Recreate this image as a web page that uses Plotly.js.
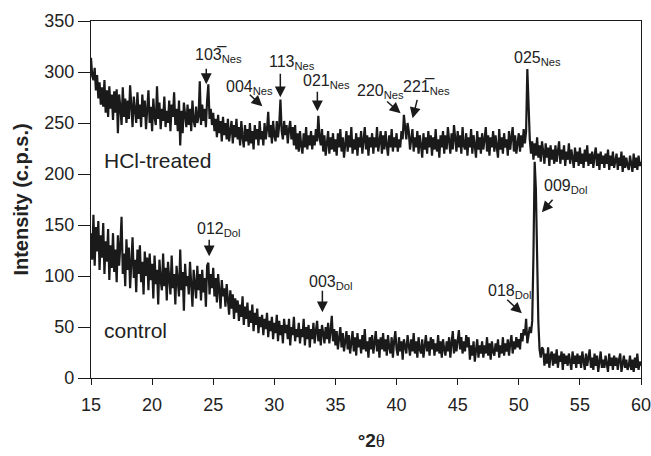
<!DOCTYPE html>
<html>
<head>
<meta charset="utf-8">
<script src="https://cdn.plot.ly/plotly-3.0.1.min.js"></script>
<style>html,body{margin:0;padding:0;background:#fff;}#chart{width:651px;height:456px;}</style>
</head>
<body>
<div id="chart"></div>
<script>
// 2-theta grid: starts at 15 degrees, one reading every 0.1 degree up to 60
const twoThetaStart = 15;
const twoThetaStep = 0.1;

// HCl-treated pattern, intensity (c.p.s.), one row per degree (15.0 ... 59.9), then 60.0
const hclTreated = [
  314,296,292,304,282,297,274,290,268,285,
  266,292,260,282,256,286,264,278,253,281,
  260,283,240,278,266,248,285,256,274,250,
  272,254,287,258,246,276,260,250,280,254,
  268,246,278,256,272,244,264,282,250,266,
  242,274,256,248,286,254,270,244,264,252,
  276,246,262,250,272,242,268,256,280,248,
  264,242,272,228,262,240,270,254,246,268,
  248,264,242,272,252,246,266,250,256,291,
  248,268,252,264,246,272,288,254,264,248,
  260,242,254,236,258,240,252,232,256,238,
  250,234,254,232,246,252,230,248,236,254,
  234,246,228,252,236,226,248,232,244,228,
  250,230,242,224,248,234,244,228,252,234,
  242,228,250,234,244,261,236,248,230,252,
  238,232,252,236,248,273,242,234,252,238,
  248,230,244,252,234,246,228,248,224,240,
  222,242,228,220,240,226,246,224,238,228,
  242,224,238,228,244,232,257,236,228,244,
  222,238,218,234,242,220,236,224,240,222,
  234,218,240,226,244,222,236,216,232,242,
  222,238,226,246,220,234,224,240,218,236,
  226,242,220,234,246,224,238,218,236,226,
  240,220,236,226,246,222,234,242,220,238,
  224,242,228,218,238,226,244,222,236,226,
  240,222,234,226,242,234,258,242,234,250,
  242,224,238,244,222,236,226,242,220,238,
  228,216,240,224,236,220,242,226,238,218,
  236,224,244,222,234,216,238,226,242,220,
  238,224,246,228,220,240,224,248,230,222,
  242,226,238,220,246,228,224,240,218,236,
  226,244,220,238,228,216,242,224,236,220,
  240,224,234,246,222,238,218,236,226,242,
  222,238,226,216,244,224,236,220,240,226,
  234,218,242,224,236,246,222,238,220,232,
  240,222,238,226,244,230,242,303,256,234,
  220,232,214,230,218,236,216,228,212,232,
  222,210,230,216,226,208,228,214,224,210,
  228,212,222,232,210,224,214,228,208,222,
  214,230,210,224,216,206,226,212,222,208,
  226,210,220,206,224,212,228,208,220,210,
  222,206,218,226,208,220,204,222,210,218,
  206,220,210,224,204,218,208,222,206,216,
  220,204,216,208,222,202,218,206,216,208,
  204,218,208,202,220,206,216,204,218,208,
  212
];

// Control pattern, intensity (c.p.s.), same grid
const control = [
  142,116,160,110,148,124,154,106,140,118,
  152,102,134,114,146,96,130,108,142,104,
  126,94,140,110,130,158,102,122,90,136,
  106,128,88,120,138,98,116,84,126,102,
  130,94,114,82,124,100,118,86,122,96,
  112,78,120,92,106,72,116,96,86,122,
  90,108,76,114,94,82,120,88,102,72,
  110,92,80,126,86,104,66,112,90,100,
  82,114,88,70,106,90,78,110,86,102,
  76,106,84,98,70,110,113,82,102,88,
  108,80,98,74,102,86,68,96,80,88,
  70,92,76,62,86,68,82,58,78,64,
  76,56,72,60,80,52,70,58,74,50,
  66,54,72,46,64,52,68,44,60,50,
  62,42,58,48,64,40,56,46,60,38,
  54,44,62,36,56,42,52,34,58,44,
  52,38,58,32,50,42,60,36,48,40,
  54,34,48,40,58,32,50,38,52,30,
  48,38,54,34,46,56,36,48,32,52,
  44,34,50,38,54,34,46,61,36,48,
  32,46,28,42,50,30,44,26,40,46,
  28,42,24,38,46,26,40,22,44,30,
  38,24,42,28,48,26,36,20,40,28,
  42,24,36,46,26,38,20,40,28,44,
  26,38,22,42,30,24,40,20,36,46,
  28,22,40,26,36,18,38,28,24,42,
  34,22,38,26,44,24,36,20,40,28,
  24,38,20,34,42,26,36,22,40,28,
  38,22,34,26,42,24,36,20,38,28,
  22,36,26,40,20,34,46,24,38,26,
  36,47,28,40,24,36,26,42,30,40,
  18,32,22,36,16,30,38,20,32,24,
  36,20,32,24,40,22,34,18,36,26,
  22,34,26,38,20,32,24,40,22,34,
  26,38,22,34,42,24,36,28,40,30,
  38,28,44,36,48,42,58,34,42,50,
  44,56,120,212,185,100,55,28,20,30,
  28,12,24,14,30,10,22,26,12,24,
  14,28,10,22,16,26,8,24,14,22,
  12,24,16,8,26,14,22,10,24,14,
  22,10,26,14,8,24,12,20,28,10,
  20,8,24,12,22,6,20,26,10,18,
  10,22,14,6,24,12,20,8,22,12,
  20,8,18,24,6,16,22,10,18,8,
  12,22,8,18,6,20,10,24,8,16,
  12
];

// Axis ticks
const xTicks = [15,20,25,30,35,40,45,50,55,60];
const yTicks = [0,50,100,150,200,250,300,350];

// Reflection labels
const peakLabels = [
  {text:'103\u0305<sub>Nes</sub>', x:23.36, y:316},
  {text:'004<sub>Nes</sub>', x:25.9, y:285},
  {text:'113<sub>Nes</sub>', x:29.43, y:309},
  {text:'021<sub>Nes</sub>', x:32.2, y:291},
  {text:'220<sub>Nes</sub>', x:36.64, y:281},
  {text:'221\u0305<sub>Nes</sub>', x:40.33, y:285},
  {text:'025<sub>Nes</sub>', x:49.48, y:313},
  {text:'009<sub>Dol</sub>', x:51.94, y:188},
  {text:'018<sub>Dol</sub>', x:47.3, y:85},
  {text:'012<sub>Dol</sub>', x:23.52, y:146},
  {text:'003<sub>Dol</sub>', x:32.68, y:94}
];
// Arrows: tail (ax, ay) -> tip (x, y)
const peakArrows = [
  {ax:24.43, ay:304.6, x:24.43, y:288},
  {ax:27.87, ay:279, x:29.02, y:266.4},
  {ax:30.49, ay:299.7, x:30.49, y:275.2},
  {ax:33.52, ay:282, x:33.52, y:261.5},
  {ax:39.1, ay:272.3, x:40.33, y:259.5},
  {ax:41.72, ay:274.2, x:41.31, y:254.6},
  {ax:52.87, ay:176.2, x:51.89, y:162.5},
  {ax:48.93, ay:78.1, x:50.25, y:63.4},
  {ax:24.67, ay:137, x:24.67, y:119.3},
  {ax:33.93, ay:87, x:33.93, y:64.4}
];
const seriesLabels = [
  {text:'HCl-treated', x:15.9, y:213},
  {text:'control', x:15.9, y:47}
];

const xs = hclTreated.map((_, i) => +(twoThetaStart + i * twoThetaStep).toFixed(2));
const FONT = '"Liberation Sans", Arial, Helvetica, sans-serif';
const INK = '#1a1a1a';

const traces = [
  {x: xs, y: hclTreated, type:'scatter', mode:'lines', line:{color:INK, width:2.2}, hoverinfo:'skip'},
  {x: xs, y: control, type:'scatter', mode:'lines', line:{color:INK, width:2.2}, hoverinfo:'skip'}
];

const annotations = [];
peakLabels.forEach(l => annotations.push({
  text:l.text, x:l.x, y:l.y, xref:'x', yref:'y', showarrow:false,
  xanchor:'left', yanchor:'middle', font:{family:FONT, size:16, color:'#222'}
}));
peakArrows.forEach(a => annotations.push({
  text:'', x:a.x, y:a.y, ax:a.ax, ay:a.ay, xref:'x', yref:'y', axref:'x', ayref:'y',
  showarrow:true, arrowhead:2, arrowsize:1.45, arrowwidth:1.5, arrowcolor:INK,
  standoff:0, startstandoff:0
}));
seriesLabels.forEach(l => annotations.push({
  text:l.text, x:l.x, y:l.y, xref:'x', yref:'y', showarrow:false,
  xanchor:'left', yanchor:'middle', font:{family:FONT, size:21, color:'#222'}
}));

const layout = {
  width:651, height:456,
  margin:{l:91, r:10, t:21, b:78},
  paper_bgcolor:'#fff', plot_bgcolor:'#fff',
  showlegend:false,
  font:{family:FONT, color:'#222', size:18},
  xaxis:{
    range:[15,60], tickvals:xTicks, ticktext:xTicks.map(String),
    ticks:'outside', ticklen:6, tickwidth:1, tickcolor:INK,
    showline:true, linecolor:INK, linewidth:1.2, mirror:true,
    showgrid:false, zeroline:false, ticklabelstandoff:4, ticklabeloverflow:'allow',
    tickfont:{family:FONT, size:18, color:'#222'},
    title:{text:'&nbsp;&nbsp;<b>°2</b><span style="font-family:\'Liberation Serif\',\'Times New Roman\',serif">θ</span>',
      font:{family:FONT, size:19, color:'#222'}, standoff:20}
  },
  yaxis:{
    range:[0,350], tickvals:yTicks, ticktext:yTicks.map(String),
    ticks:'outside', ticklen:12, tickwidth:1, tickcolor:INK,
    showline:true, linecolor:INK, linewidth:1.2, mirror:true,
    showgrid:false, zeroline:false,
    tickfont:{family:FONT, size:18, color:'#222'},
    title:{text:'<b>Intensity (c.p.s.)</b>', font:{family:FONT, size:20, color:'#222'}, standoff:10}
  },
  annotations: annotations
};

Plotly.newPlot('chart', traces, layout, {staticPlot:true, displayModeBar:false});
</script>
</body>
</html>
